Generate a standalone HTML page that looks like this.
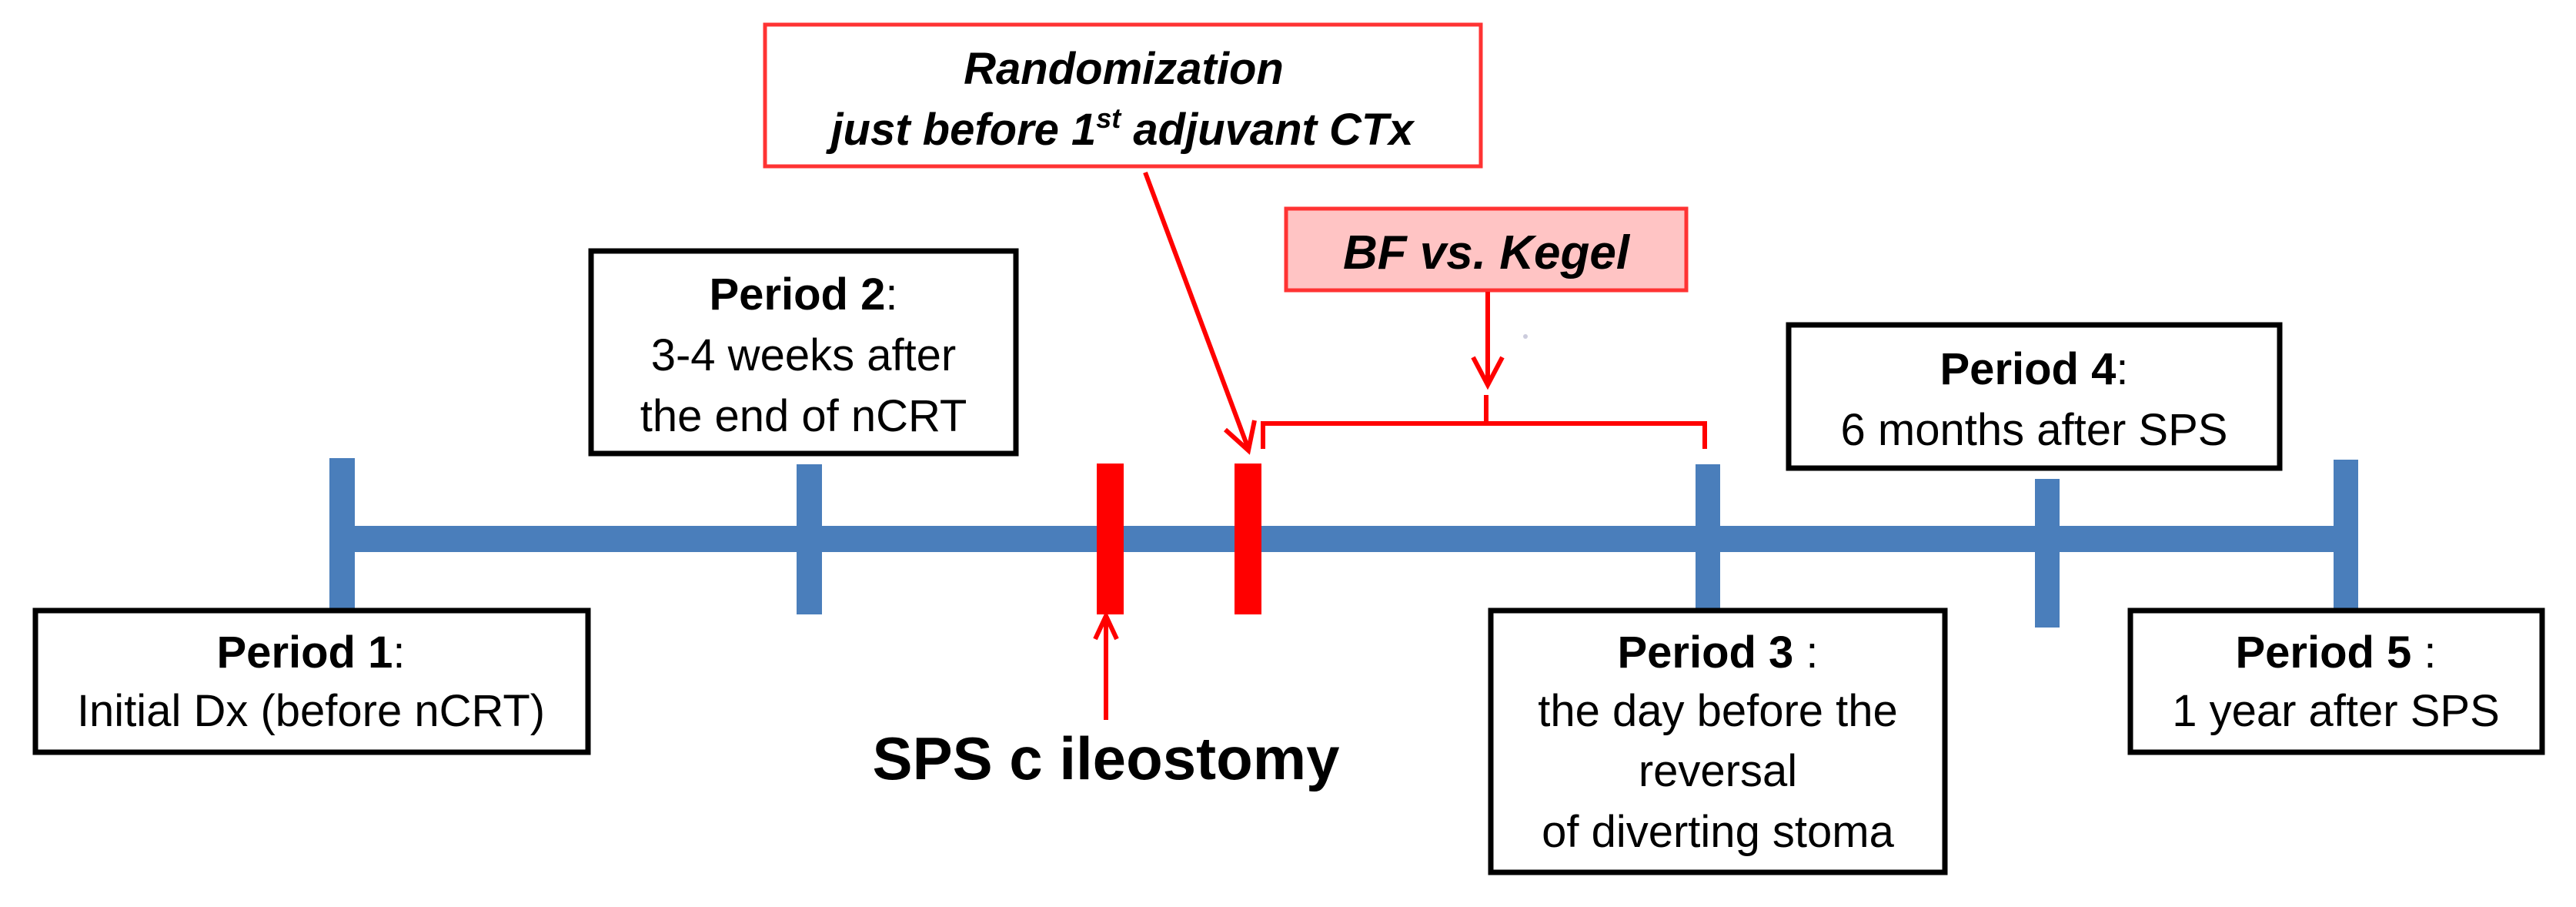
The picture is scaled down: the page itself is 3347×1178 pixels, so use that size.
<!DOCTYPE html>
<html><head><meta charset="utf-8"><style>
html,body{margin:0;padding:0;background:#fff;}
svg{display:block;}
text{font-family:"Liberation Sans",Arial,sans-serif;}
</style></head><body>
<svg width="3347" height="1178" viewBox="0 0 3347 1178" xmlns="http://www.w3.org/2000/svg">
<rect width="3347" height="1178" fill="#fff"/>
<rect x="444" y="683" width="2604" height="34" fill="#4a7ebb"/>
<rect x="428" y="595" width="33" height="197" fill="#4a7ebb"/>
<rect x="1035" y="603" width="33" height="195" fill="#4a7ebb"/>
<rect x="2203" y="603" width="32" height="195" fill="#4a7ebb"/>
<rect x="2644" y="622" width="32" height="193" fill="#4a7ebb"/>
<rect x="3032" y="597" width="32" height="195" fill="#4a7ebb"/>
<rect x="1425" y="602" width="35" height="196" fill="#ff0000"/>
<rect x="1604" y="602" width="35" height="196" fill="#ff0000"/>
<g fill="#fff" stroke="#000" stroke-width="7">
<rect x="46" y="793" width="718" height="184"/>
<rect x="768" y="326" width="552" height="263"/>
<rect x="1937" y="793" width="590" height="340"/>
<rect x="2324" y="422" width="638" height="186"/>
<rect x="2768" y="793" width="535" height="184"/>
</g>
<rect x="994" y="32" width="930" height="184" fill="#fff" stroke="#ff3333" stroke-width="5"/>
<rect x="1671" y="271" width="520" height="106" fill="#ffc4c4" stroke="#ff3333" stroke-width="5"/>
<g stroke="#ff0000" stroke-width="6" fill="none">
<line x1="1488" y1="224" x2="1622" y2="583"/>
<polyline points="1592,558 1622,585 1630,546"/>
<line x1="1437" y1="935" x2="1437" y2="802"/>
<polyline points="1423,830 1437,800 1451,830"/>
<polyline points="1641,583 1641,550 2215,550 2215,583"/>
<line x1="1931" y1="550" x2="1931" y2="513"/>
<line x1="1933" y1="379" x2="1933" y2="500"/>
<polyline points="1914,464 1933,500 1952,464"/>
</g>
<circle cx="1982" cy="437" r="3" fill="#ccccdd"/>
<g font-size="58" text-anchor="middle" fill="#000">
<text x="1460" y="109" font-weight="bold" font-style="italic">Randomization</text>
<text x="1458" y="188" font-weight="bold" font-style="italic">just before 1<tspan font-size="36" dy="-22">st</tspan><tspan dy="22"> adjuvant CTx</tspan></text>
<text x="1931" y="349" font-weight="bold" font-style="italic" font-size="62">BF vs. Kegel</text>
<text x="404" y="867"><tspan font-weight="bold">Period 1</tspan>:</text>
<text x="404" y="943">Initial Dx (before nCRT)</text>
<text x="1044" y="402"><tspan font-weight="bold">Period 2</tspan>:</text>
<text x="1044" y="481">3-4 weeks after</text>
<text x="1044" y="560">the end of nCRT</text>
<text x="2232" y="867"><tspan font-weight="bold">Period 3</tspan> :</text>
<text x="2232" y="943">the day before the</text>
<text x="2232" y="1021">reversal</text>
<text x="2232" y="1100">of diverting stoma</text>
<text x="2643" y="499"><tspan font-weight="bold">Period 4</tspan>:</text>
<text x="2643" y="578">6 months after SPS</text>
<text x="3035" y="867"><tspan font-weight="bold">Period 5</tspan> :</text>
<text x="3035" y="943">1 year after SPS</text>
<text x="1437" y="1012" font-size="78" font-weight="bold">SPS c ileostomy</text>
</g>
</svg>
</body></html>
